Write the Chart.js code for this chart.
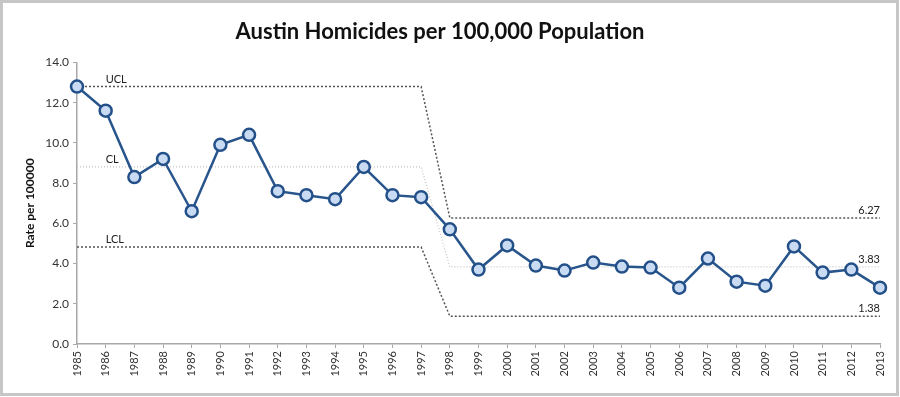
<!DOCTYPE html>
<html>
<head>
<meta charset="utf-8">
<script src="https://cdn.jsdelivr.net/npm/chart.js@4/dist/chart.umd.min.js"></script>
<style>
  html, body { margin: 0; padding: 0; background: #fff; }
  #wrap { width: 900px; height: 397px; }
</style>
</head>
<body>
<div id="wrap"><canvas id="homicideChart" width="900" height="397"></canvas></div>
<script>
const years = ['1985','1986','1987','1988','1989','1990','1991','1992','1993','1994',
  '1995','1996','1997','1998','1999','2000','2001','2002','2003','2004',
  '2005','2006','2007','2008','2009','2010','2011','2012','2013'];

const rates = [12.8, 11.6, 8.3, 9.2, 6.6, 9.9, 10.4, 7.6, 7.4, 7.2,
  8.8, 7.4, 7.3, 5.7, 3.7, 4.9, 3.9, 3.65, 4.05, 3.85,
  3.8, 2.8, 4.25, 3.1, 2.9, 4.85, 3.55, 3.7, 2.8];

const ucl = [12.8, 12.8, 12.8, 12.8, 12.8, 12.8, 12.8, 12.8, 12.8, 12.8,
  12.8, 12.8, 12.8, 6.27, 6.27, 6.27, 6.27, 6.27, 6.27, 6.27,
  6.27, 6.27, 6.27, 6.27, 6.27, 6.27, 6.27, 6.27, 6.27];

const cl = [8.81, 8.81, 8.81, 8.81, 8.81, 8.81, 8.81, 8.81, 8.81, 8.81,
  8.81, 8.81, 8.81, 3.83, 3.83, 3.83, 3.83, 3.83, 3.83, 3.83,
  3.83, 3.83, 3.83, 3.83, 3.83, 3.83, 3.83, 3.83, 3.83];

const lcl = [4.82, 4.82, 4.82, 4.82, 4.82, 4.82, 4.82, 4.82, 4.82, 4.82,
  4.82, 4.82, 4.82, 1.38, 1.38, 1.38, 1.38, 1.38, 1.38, 1.38,
  1.38, 1.38, 1.38, 1.38, 1.38, 1.38, 1.38, 1.38, 1.38];

// left-side names and right-side values for the limit lines
const limitNames = ['UCL', 'CL', 'LCL'];
const limitEndLabels = ['6.27', '3.83', '1.38'];

const FONT = 'Lato, "Open Sans", sans-serif';

// frame + UCL/CL/LCL text
const annotations = {
  id: 'annotations',
  afterDraw(chart) {
    const c = chart.ctx;
    c.save();
    c.strokeStyle = '#c6c6c6';
    c.lineWidth = 3;
    c.strokeRect(1.5, 1.5, chart.width - 4, chart.height - 4);

    c.fillStyle = '#222';
    c.font = '11px ' + FONT;
    c.textBaseline = 'bottom';
    for (let i = 0; i < 3; i++) {
      const pts = chart.getDatasetMeta(i + 1).data;
      c.textAlign = 'left';
      c.fillText(limitNames[i], pts[1].x, pts[1].y - 2);
      const last = pts[pts.length - 1];
      c.textAlign = 'right';
      c.fillText(limitEndLabels[i], last.x, last.y - 2);
    }
    c.restore();
  }
};

new Chart(document.getElementById('homicideChart'), {
  type: 'line',
  data: {
    labels: years,
    datasets: [
      {
        label: 'Rate',
        data: rates,
        borderColor: '#28558c',
        borderWidth: 2.5,
        pointBackgroundColor: '#c8dbf2',
        pointBorderColor: '#24508a',
        pointBorderWidth: 2.5,
        pointRadius: 6,
        tension: 0,
        order: 0
      },
      {
        label: 'UCL', data: ucl, borderColor: '#555', borderWidth: 1.5,
        borderDash: [2, 2], pointRadius: 0, fill: false, order: 1
      },
      {
        label: 'CL', data: cl, borderColor: '#c4c4c4', borderWidth: 1.2,
        borderDash: [1, 2], pointRadius: 0, fill: false, order: 1
      },
      {
        label: 'LCL', data: lcl, borderColor: '#555', borderWidth: 1.5,
        borderDash: [2, 2], pointRadius: 0, fill: false, order: 1
      }
    ]
  },
  options: {
    responsive: false,
    animation: false,
    layout: { padding: { left: 0, right: 20, top: 0, bottom: 0 } },
    plugins: {
      legend: { display: false },
      tooltip: { enabled: false },
      title: {
        display: true,
        text: 'Austin Homicides per 100,000 Population',
        color: '#111',
        font: { family: FONT, size: 22, weight: 'bold' },
        padding: { top: 19, bottom: 17 }
      }
    },
    scales: {
      x: {
        offset: false,
        grid: { drawOnChartArea: false, drawTicks: true, tickLength: 4, color: '#a8a8a8' },
        border: { color: '#a8a8a8', width: 1.5 },
        ticks: {
          color: '#333', font: { family: FONT, size: 11 },
          minRotation: 90, maxRotation: 90, autoSkip: false, padding: 3
        },
        afterFit(scale) { scale.height = 53; }
      },
      y: {
        min: 0, max: 14,
        grid: { drawOnChartArea: false, drawTicks: true, tickLength: 4, color: '#a8a8a8' },
        border: { color: '#a8a8a8', width: 1.5 },
        ticks: {
          stepSize: 2, color: '#333', font: { family: FONT, size: 12 },
          padding: 4,
          callback: v => v.toFixed(1)
        },
        title: {
          display: true, text: 'Rate per 100000', color: '#111',
          font: { family: FONT, size: 12, weight: 'bold' }, padding: { top: 23, bottom: 4 }
        },
        afterFit(scale) { scale.width = 77; }
      }
    }
  },
  plugins: [annotations]
});
</script>
</body>
</html>
